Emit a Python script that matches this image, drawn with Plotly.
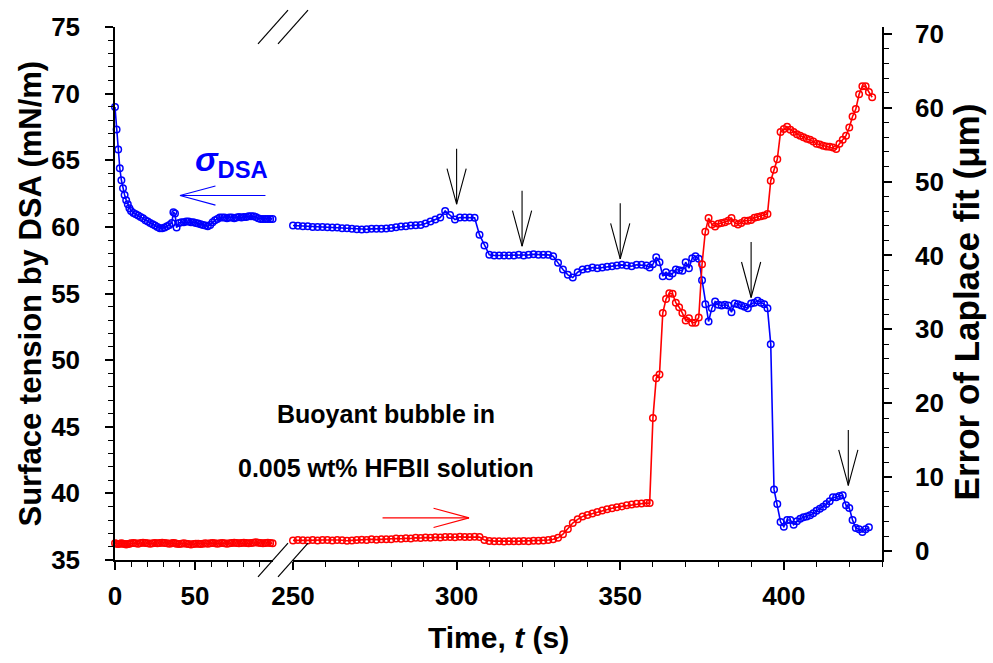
import plotly.graph_objects as go

# ---------------- data ----------------
t_left = [0, 1, 2, 3, 4, 5, 6, 7, 8, 9, 10,
          11.5, 13, 14.5, 16, 17.5, 19, 20.5, 22, 23.5, 25, 26.5, 28, 29.5, 31, 32.5, 34, 35.5,
          36.5, 37.5, 38.5,
          40, 41.5, 43, 44.5, 46, 47.5, 49, 50.5, 52, 53.5,
          55, 56.5, 58, 59.5, 61, 62.5, 64, 65.5, 67, 68.5,
          70, 71.5, 73, 74.5, 76, 77.5, 79, 80.5, 82, 83.5,
          85, 86.5, 88, 89.5, 91, 92.5, 94, 95.5, 97, 98.5]
sigma_left = [69.0, 67.3, 65.8, 64.4, 63.5, 62.9, 62.4, 62.0, 61.7, 61.4, 61.2,
              61.05, 60.95, 60.85, 60.75, 60.65, 60.5, 60.4, 60.3, 60.2, 60.1, 60.0, 59.9, 59.9, 59.95, 60.05, 60.15, 60.3,
              61.1, 61.0, 59.95,
              60.3, 60.35, 60.35, 60.4, 60.4, 60.35, 60.35, 60.3, 60.25, 60.2,
              60.15, 60.1, 60.05, 60.15, 60.35, 60.5, 60.6, 60.7, 60.7, 60.7,
              60.65, 60.7, 60.7, 60.65, 60.7, 60.75, 60.7, 60.75, 60.75, 60.8,
              60.8, 60.8, 60.75, 60.65, 60.6, 60.6, 60.6, 60.6, 60.6, 60.6]
err_left = [1.05, 1.0, 0.95, 1.0, 1.05, 1.0, 0.95, 0.9, 0.95, 1.0, 1.05,
            1.1, 1.05, 1.0, 1.1, 1.15, 1.1, 1.05, 1.0, 1.05, 1.1, 1.05, 1.1, 1.15, 1.1, 1.05, 1.0, 1.05,
            1.1, 1.05, 1.0,
            0.95, 1.0, 1.05, 1.0, 0.95, 0.9, 0.95, 1.0, 1.0, 0.95,
            1.0, 1.05, 1.0, 1.05, 1.1, 1.05, 1.0, 1.05, 1.1, 1.05,
            1.0, 1.05, 1.1, 1.15, 1.1, 1.05, 1.1, 1.15, 1.1, 1.05,
            1.1, 1.15, 1.2, 1.15, 1.1, 1.05, 1.1, 1.15, 1.1, 1.05]

t_right = [250, 251.5, 253, 254.5, 256, 257.5, 259, 260.5, 262, 263.5,
           265, 266.5, 268, 269.5, 271, 272.5, 274, 275.5, 277, 278.5,
           280, 281.5, 283, 284.5, 286, 287.5, 289, 290.5, 292, 293.5,
           295, 296.5, 298, 299.5, 301, 302.5, 304, 305.5, 307, 308.5,
           310, 311.5, 313, 314.5, 316, 317.5, 319, 320.5, 322, 323.5,
           325, 326.5, 328, 329.5, 331, 332.5, 334, 335.5, 337, 338.5,
           340, 341.5, 343, 344.5, 346, 347.5, 349, 350.5, 352, 353.5,
           355, 356.5, 358,
           359, 360, 361, 362, 363, 364, 365, 366, 367, 368,
           369, 370, 371, 372, 373, 374, 375, 376, 377, 378,
           379, 380, 381, 382, 383, 384, 385, 386, 387, 388,
           389, 390, 391, 392, 393, 394, 395, 396, 397, 398,
           399, 400, 401, 402, 403, 404, 405, 406, 407, 408,
           409, 410, 411, 412, 413, 414, 415, 416, 417, 418,
           419, 420, 421, 422, 423, 424, 425, 426, 427]
sigma_right = [60.1, 60.08, 60.05, 60.05, 60.0, 60.0, 60.0, 59.98, 59.95, 59.95,
               59.9, 59.9, 59.85, 59.82, 59.8, 59.82, 59.85, 59.85, 59.85, 59.88,
               59.92, 59.98, 60.02, 60.05, 60.1, 60.12, 60.15, 60.25, 60.4, 60.55,
               60.7, 61.2, 60.9, 60.55, 60.7, 60.7, 60.7, 60.68, 59.4, 58.6,
               57.9, 57.85, 57.85, 57.85, 57.85, 57.85, 57.9, 57.85, 57.9, 57.95,
               57.9, 57.9, 57.9, 57.8, 57.3, 56.8, 56.4, 56.2, 56.6, 56.8,
               56.85, 56.95, 56.9, 56.95, 57.0, 57.05, 57.1, 57.15, 57.1, 57.05,
               57.15, 57.15, 57.1,
               56.95, 57.2, 57.72, 57.35, 56.3, 56.6, 56.3, 56.5, 56.8, 56.75,
               56.7, 57.35, 56.9, 57.65, 57.8, 57.6, 56.0, 54.2, 52.9, 53.9,
               54.4, 54.15, 54.1, 54.15, 54.1, 53.6, 54.25, 54.2, 54.1, 54.0,
               53.9, 54.25, 54.3, 54.45, 54.3, 54.2, 53.9, 51.2, 40.3, 39.2,
               37.85, 37.5, 38.0, 38.0, 37.65, 37.9, 38.1, 38.2, 38.27, 38.35,
               38.5, 38.7, 38.85, 39.0, 39.2, 39.4, 39.7, 39.7, 39.8, 39.85,
               39.1, 38.9, 38.0, 37.4, 37.3, 37.1, 37.3, 37.45]
err_right = [1.45, 1.5, 1.48, 1.45, 1.5, 1.45, 1.5, 1.5, 1.45, 1.5,
             1.48, 1.4, 1.45, 1.5, 1.55, 1.5, 1.6, 1.55, 1.6, 1.62,
             1.6, 1.7, 1.68, 1.75, 1.7, 1.8, 1.78, 1.85, 1.8, 1.88,
             1.85, 1.9, 1.92, 1.88, 1.95, 1.9, 1.92, 1.95, 1.9, 1.5,
             1.38, 1.35, 1.35, 1.3, 1.35, 1.32, 1.35, 1.38, 1.35, 1.4,
             1.4, 1.45, 1.5, 1.6, 1.8, 2.3, 3.0, 3.8, 4.3, 4.7,
             4.9, 5.1, 5.3, 5.5, 5.65, 5.8, 5.95, 6.05, 6.2, 6.3,
             6.4, 6.45, 6.5,
             6.5, 18.0, 23.4, 23.9, 32.2, 34.1, 34.9, 34.8, 33.6, 33.0,
             32.2, 31.2, 31.5, 30.9, 30.9, 31.6, 38.8, 43.2, 45.05, 44.2,
             43.9, 44.3, 44.4, 44.5, 44.7, 45.05, 44.4, 44.2, 44.4, 44.7,
             44.7, 44.8, 45.1, 45.2, 45.3, 45.4, 45.6, 50.1, 51.6, 53.0,
             56.7, 57.1, 57.4, 57.0, 56.7, 56.4, 56.2, 56.0, 55.8, 55.65,
             55.4, 55.1, 55.0, 54.85, 54.75, 54.7, 54.6, 54.4, 55.1, 55.65,
             56.2, 57.3, 58.8, 59.8, 61.8, 62.9, 62.9, 62.1, 61.4]

# annotation arrows (tip positions)
down_arrow_t = [300, 320, 350, 390, 419.7]
down_arrow_sigma = [61.7, 58.55, 57.6, 54.7, 40.6]
sigma_arrow_tip = (40.6, 62.35)   # on left segment, left axis
err_arrow_tip = (303.8, 4.5)      # on right segment, right axis

x1_range = [0, 98.75]
x2_range = [250, 430]
y1_range = [35, 75]
y2_range = [-1.2, 70.9]

# ---------------- layout geometry ----------------
W, H = 993, 663
ML, MR, MT, MB = 115, 111, 22, 103
PW = W - ML - MR
PH = H - MT - MB
dom1 = [0, 158 / PW]
dom2 = [178 / PW, 1]

FONT = "Liberation Sans, Arial, sans-serif"
BLUE = "#0000ff"
RED = "#ff0000"
tickfont = dict(family=FONT, size=26, color="black", weight="bold")

fig = go.Figure()

def add_series(x, y, xa, ya, color):
    fig.add_trace(go.Scatter(
        x=x, y=y, xaxis=xa, yaxis=ya, mode="lines+markers",
        line=dict(color=color, width=1.6),
        marker=dict(symbol="circle-open", size=6.5, color=color, line=dict(width=1.5, color=color)),
        cliponaxis=False, showlegend=False, hoverinfo="skip"))

add_series(t_left, err_left, "x", "y2", RED)
add_series(t_right, err_right, "x2", "y2", RED)
add_series(t_left, sigma_left, "x", "y", BLUE)
add_series(t_right[:len(sigma_right)], sigma_right, "x2", "y", BLUE)

common = dict(showgrid=False, zeroline=False, linecolor="black", linewidth=1.5,
              tickcolor="black", tickwidth=1.5)

def main_x(dom, rng):
    return dict(domain=dom, range=rng, anchor="y", showline=True, ticks="outside", ticklen=8,
                tick0=0, dtick=50, tickfont=tickfont, ticklabelstandoff=4,
                minor=dict(ticks="outside", ticklen=5, tick0=0, dtick=10, tickcolor="black", tickwidth=1.2),
                **common)

def inner_x(base, rng):
    return dict(overlaying=base, range=rng, anchor="y", side="bottom", showline=False,
                ticks="inside", ticklen=8, tick0=0, dtick=50, showticklabels=False, **common)

def top_x(base, rng):
    return dict(overlaying=base, range=rng, anchor="y", side="top", showline=True,
                ticks="inside", ticklen=8, tick0=0, dtick=50, showticklabels=False,
                minor=dict(ticks="inside", ticklen=5, tick0=0, dtick=10, tickcolor="black", tickwidth=1.2),
                **common)

fig.update_layout(
    width=W, height=H, margin=dict(l=ML, r=MR, t=MT, b=MB),
    paper_bgcolor="white", plot_bgcolor="white", showlegend=False,
    font=dict(family=FONT, color="black"),
    xaxis=main_x(dom1, x1_range),
    xaxis2=main_x(dom2, x2_range),
    xaxis3=inner_x("x", x1_range),
    xaxis4=top_x("x", x1_range),
    xaxis5=inner_x("x2", x2_range),
    xaxis6=top_x("x2", x2_range),
    yaxis=dict(range=y1_range, anchor="x", side="left", showline=True, ticks="outside", ticklen=8,
               tick0=0, dtick=5, tickfont=tickfont, ticklabelstandoff=20,
               minor=dict(ticks="outside", ticklen=5, tick0=0, dtick=1, tickcolor="black", tickwidth=1.2),
               **common),
    yaxis2=dict(range=y2_range, overlaying="y", anchor="x2", side="right", showline=True,
                ticks="outside", ticklen=8, tick0=0, dtick=10, tickfont=tickfont, ticklabelstandoff=18,
                minor=dict(ticks="outside", ticklen=5, tick0=0, dtick=2, tickcolor="black", tickwidth=1.2),
                **common),
    yaxis3=dict(range=y1_range, overlaying="y", anchor="x", side="left", showline=False,
                ticks="inside", ticklen=8, tick0=0, dtick=5, showticklabels=False, **common),
    yaxis4=dict(range=y2_range, overlaying="y", anchor="x2", side="right", showline=False,
                ticks="inside", ticklen=8, tick0=0, dtick=10, showticklabels=False, **common),
)

# axis break marks
gdx, gdy = 15 / PW, 17 / PH
for gx in (dom1[1], dom2[0]):
    for gy in (0.0, 1.0):
        fig.add_shape(type="line", xref="paper", yref="paper",
                      x0=gx - gdx, y0=gy - gdy, x1=gx + gdx, y1=gy + gdy,
                      line=dict(color="black", width=1.2))

def line_ann(x, y, xref, yref, ax, ay, color):
    fig.add_annotation(x=x, y=y, xref=xref, yref=yref, ax=ax, ay=ay, text="",
                       showarrow=True, arrowhead=0, arrowwidth=1.1, arrowcolor=color,
                       standoff=0, startstandoff=0)

# vertical black arrows (open V heads)
for t, s in zip(down_arrow_t, down_arrow_sigma):
    line_ann(t, s, "x2", "y", 0, -57, "black")
    line_ann(t, s, "x2", "y", -10, -37, "black")
    line_ann(t, s, "x2", "y", 10, -37, "black")

# blue left-pointing arrow
line_ann(sigma_arrow_tip[0], sigma_arrow_tip[1], "x", "y", 87, 0, BLUE)
line_ann(sigma_arrow_tip[0], sigma_arrow_tip[1], "x", "y", 37, -10, BLUE)
line_ann(sigma_arrow_tip[0], sigma_arrow_tip[1], "x", "y", 37, 10, BLUE)
# red right-pointing arrow
line_ann(err_arrow_tip[0], err_arrow_tip[1], "x2", "y2", -88, 0, RED)
line_ann(err_arrow_tip[0], err_arrow_tip[1], "x2", "y2", -37, -10, RED)
line_ann(err_arrow_tip[0], err_arrow_tip[1], "x2", "y2", -37, 10, RED)

# sigma_DSA label
fig.add_annotation(x=72.5, y=64.9, xref="x", yref="y", showarrow=False,
                   text="<b><i>σ</i><sub>DSA</sub></b>",
                   font=dict(family=FONT, size=34, color=BLUE), xanchor="center", yanchor="middle")

# in-plot text
def px_paper(px, py):
    return (px - ML) / PW, (MT + PH - py) / PH

for txt, (px, py) in [("Buoyant bubble in", (386, 413)), ("0.005 wt% HFBII solution", (386, 467))]:
    xp, yp = px_paper(px, py)
    fig.add_annotation(x=xp, y=yp, xref="paper", yref="paper", showarrow=False, text=txt,
                       font=dict(family=FONT, size=25, color="black", weight="bold"),
                       xanchor="center", yanchor="middle")

# axis titles
xp, yp = px_paper(498, 638)
fig.add_annotation(x=xp, y=yp, xref="paper", yref="paper", showarrow=False,
                   text="Time, <i>t</i> (s)", font=dict(family=FONT, size=30, color="black", weight="bold"),
                   xanchor="center", yanchor="middle")
xp, yp = px_paper(30, 291)
fig.add_annotation(x=xp, y=yp, xref="paper", yref="paper", showarrow=False, textangle=-90,
                   text="Surface tension by DSA (mN/m)",
                   font=dict(family=FONT, size=31, color="black", weight="bold"),
                   xanchor="center", yanchor="middle")
xp, yp = px_paper(966, 300)
fig.add_annotation(x=xp, y=yp, xref="paper", yref="paper", showarrow=False, textangle=-90,
                   text="Error of Laplace fit (μm)",
                   font=dict(family=FONT, size=35, color="black", weight="bold"),
                   xanchor="center", yanchor="middle")

fig.write_html("out.html")
